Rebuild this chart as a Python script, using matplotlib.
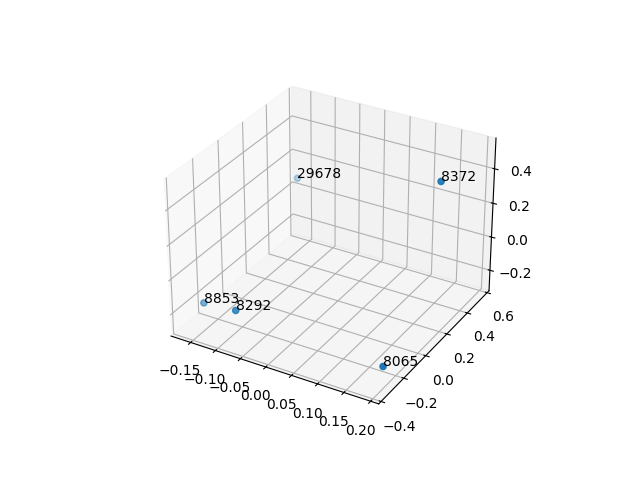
import matplotlib
matplotlib.use('Agg')
import matplotlib.pyplot as plt

labels = ['29678', '8372', '8853', '8292', '8065']
xs = [-0.17, 0.197, -0.185, -0.072, 0.201]
ys = [0.58, 0.19, -0.175, -0.36, -0.32]
zs = [0.06, 0.545, -0.275, -0.10, -0.19]

fig = plt.figure()
ax = fig.add_subplot(projection='3d')
ax.scatter(xs, ys, zs)
for i in range(len(labels)):
    ax.text(xs[i], ys[i], zs[i], labels[i])

ax.set_xlim(-0.19, 0.215)
ax.set_ylim(-0.42, 0.62)
ax.set_zlim(-0.325, 0.575)
fig.savefig('out.png')
